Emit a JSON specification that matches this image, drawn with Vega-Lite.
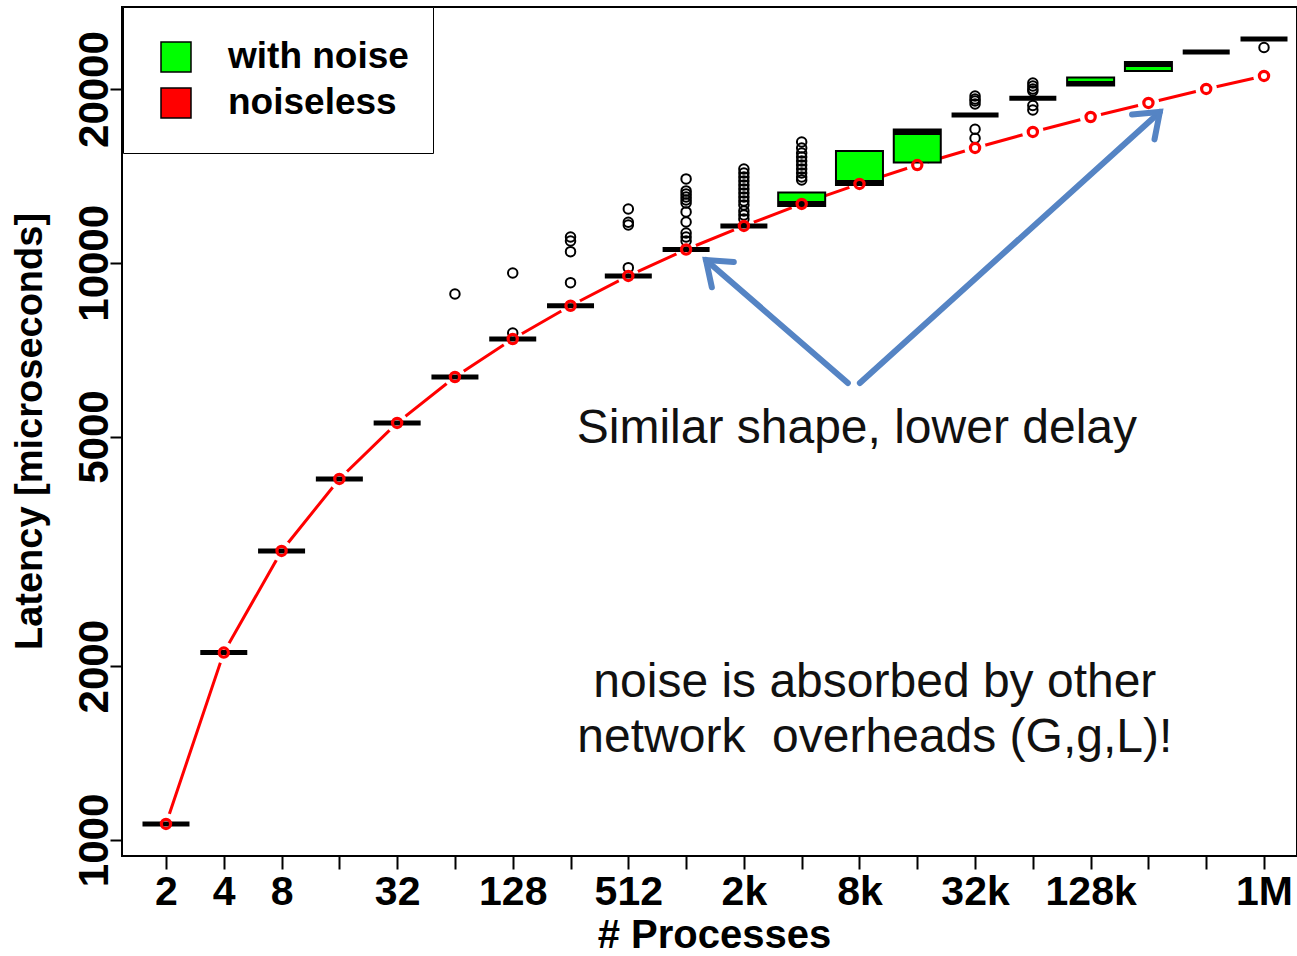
{
  "$schema": "https://vega.github.io/schema/vega-lite/v6.json",
  "autosize": {"type": "none"},
  "padding": {"left": 122, "top": 7, "right": 0, "bottom": 100},
  "width": 1175,
  "height": 849,
  "background": "white",
  "config": {
    "view": {"stroke": "black", "strokeWidth": 2},
    "font": "Liberation Sans",
    "legend": {
      "orient": "none", "legendX": 1, "legendY": 0,
      "padding": 24, "symbolOffset": 3, "labelOffset": 26, "rowPadding": 2,
      "symbolSize": 2500, "symbolType": "M-0.6,-0.6H0.6V0.6H-0.6Z",
      "symbolStrokeColor": "black", "symbolStrokeWidth": 1.5,
      "labelFontSize": 37, "labelFont": "Liberation Sans", "labelFontWeight": "bold",
      "labelColor": "black", "labelLimit": 400,
      "strokeColor": "black", "fillColor": "white"
    }
  },
  "datasets": {
    "noiseless": [
      {"procs": 2, "latency": 1066}, {"procs": 4, "latency": 2112}, {"procs": 8, "latency": 3168},
      {"procs": 16, "latency": 4222}, {"procs": 32, "latency": 5279}, {"procs": 64, "latency": 6341},
      {"procs": 128, "latency": 7379}, {"procs": 256, "latency": 8426}, {"procs": 512, "latency": 9489},
      {"procs": 1024, "latency": 10546}, {"procs": 2048, "latency": 11584}, {"procs": 4096, "latency": 12648},
      {"procs": 8192, "latency": 13700}, {"procs": 16384, "latency": 14773}, {"procs": 32768, "latency": 15812},
      {"procs": 65536, "latency": 16855}, {"procs": 131072, "latency": 17893}, {"procs": 262144, "latency": 18923},
      {"procs": 524288, "latency": 20010}, {"procs": 1048576, "latency": 21076}
    ],
    "medians": [
      {"procs": 2, "median": 1066}, {"procs": 4, "median": 2112}, {"procs": 8, "median": 3168},
      {"procs": 16, "median": 4222}, {"procs": 32, "median": 5279}, {"procs": 64, "median": 6341},
      {"procs": 128, "median": 7379}, {"procs": 256, "median": 8426}, {"procs": 512, "median": 9489},
      {"procs": 1024, "median": 10546}, {"procs": 2048, "median": 11584}, {"procs": 4096, "median": 12674},
      {"procs": 8192, "median": 13782}, {"procs": 16384, "median": 16820}, {"procs": 32768, "median": 18037},
      {"procs": 65536, "median": 19280}, {"procs": 131072, "median": 20452}, {"procs": 262144, "median": 22065},
      {"procs": 524288, "median": 23190}, {"procs": 1048576, "median": 24430}
    ],
    "boxes": [
      {"procs": 4096, "q1": 12549, "q3": 13243, "series": "with noise"},
      {"procs": 8192, "q1": 13646, "q3": 15624, "series": "with noise"},
      {"procs": 16384, "q1": 14924, "q3": 17022, "series": "with noise"},
      {"procs": 131072, "q1": 20293, "q3": 20950, "series": "with noise"},
      {"procs": 262144, "q1": 21500, "q3": 22284, "series": "with noise"}
    ],
    "outliers": [
      {"procs": 64, "latency": 8831},
      {"procs": 128, "latency": 9603}, {"procs": 128, "latency": 7557},
      {"procs": 256, "latency": 11087}, {"procs": 256, "latency": 10910}, {"procs": 256, "latency": 10455}, {"procs": 256, "latency": 9239},
      {"procs": 512, "latency": 12397}, {"procs": 512, "latency": 11756}, {"procs": 512, "latency": 11630}, {"procs": 512, "latency": 9808},
      {"procs": 1024, "latency": 13977}, {"procs": 1024, "latency": 13323}, {"procs": 1024, "latency": 13164}, {"procs": 1024, "latency": 13007},
      {"procs": 1024, "latency": 12852}, {"procs": 1024, "latency": 12699}, {"procs": 1024, "latency": 12251}, {"procs": 1024, "latency": 11770},
      {"procs": 1024, "latency": 11266}, {"procs": 1024, "latency": 11087}, {"procs": 1024, "latency": 10910},
      {"procs": 2048, "latency": 14540}, {"procs": 2048, "latency": 14311}, {"procs": 2048, "latency": 14082}, {"procs": 2048, "latency": 13861},
      {"procs": 2048, "latency": 13642}, {"procs": 2048, "latency": 13424}, {"procs": 2048, "latency": 13213}, {"procs": 2048, "latency": 13006},
      {"procs": 2048, "latency": 12798}, {"procs": 2048, "latency": 12598}, {"procs": 2048, "latency": 12301}, {"procs": 2048, "latency": 12106},
      {"procs": 2048, "latency": 11912},
      {"procs": 4096, "latency": 16196}, {"procs": 4096, "latency": 15812}, {"procs": 4096, "latency": 15500}, {"procs": 4096, "latency": 15255},
      {"procs": 4096, "latency": 15014}, {"procs": 4096, "latency": 14773}, {"procs": 4096, "latency": 14540}, {"procs": 4096, "latency": 14311},
      {"procs": 4096, "latency": 14082}, {"procs": 4096, "latency": 13915},
      {"procs": 32768, "latency": 19458}, {"procs": 32768, "latency": 19226}, {"procs": 32768, "latency": 19071}, {"procs": 32768, "latency": 18843},
      {"procs": 32768, "latency": 17037}, {"procs": 32768, "latency": 16436},
      {"procs": 65536, "latency": 20495}, {"procs": 65536, "latency": 20251}, {"procs": 65536, "latency": 20010}, {"procs": 65536, "latency": 19849},
      {"procs": 65536, "latency": 18731}, {"procs": 65536, "latency": 18397},
      {"procs": 1048576, "latency": 23610}
    ],
    "arrows": [
      {"id": 1, "procs": 7126, "latency": 6191, "procs2": 1299, "latency2": 10113},
      {"id": 2, "procs": 8231, "latency": 6191, "procs2": 300700, "latency2": 18256}
    ],
    "notes": [
      {"procs": 7940, "latency": 4873, "label": "Similar shape, lower delay"},
      {"procs": 9850, "latency": 1769, "label": "noise is absorbed by other"},
      {"procs": 9850, "latency": 1421, "label": "network \u00a0overheads (G,g,L)!"}
    ]
  },
  "encoding": {
    "x": {
      "field": "procs", "type": "quantitative",
      "scale": {"type": "log", "base": 2, "domain": [1.18, 1557700], "nice": false, "zero": false, "padding": 0},
      "axis": {
        "title": "# Processes", "titleFontSize": 40, "titleFontWeight": "bold", "titleColor": "black",
        "titleX": 592, "titleY": 91, "titleBaseline": "alphabetic", "titleAnchor": null, "titleAlign": "center",
        "values": [2,4,8,16,32,64,128,256,512,1024,2048,4096,8192,16384,32768,65536,131072,262144,524288,1048576],
        "labelExpr": "datum.value == 1048576 ? '1M' : (indexof([2048,8192,32768,131072], datum.value) >= 0 ? (datum.value/1024) + 'k' : (indexof([2,4,8,32,128,512], datum.value) >= 0 ? '' + datum.value : ''))",
        "labelFontSize": 41, "labelFontWeight": "bold", "labelColor": "black",
        "labelBaseline": "alphabetic", "labelPadding": 35, "labelOverlap": false, "labelFlush": false, "labelBound": false,
        "tickSize": 13, "tickWidth": 2, "tickColor": "black", "domain": false, "grid": false
      }
    },
    "y": {
      "field": "latency", "type": "quantitative",
      "scale": {"type": "log", "domain": [938, 27750], "nice": false, "zero": false, "padding": 0},
      "axis": {
        "title": "Latency [microseconds]", "titleFontSize": 38, "titleFontWeight": "bold", "titleColor": "black",
        "titleAngle": 270, "titleX": -81, "titleY": 424, "titleBaseline": "alphabetic", "titleAlign": "center", "titleAnchor": null,
        "values": [1000, 2000, 5000, 10000, 20000], "format": "d",
        "labelFontSize": 42, "labelFontWeight": "bold", "labelColor": "black",
        "labelAngle": 270, "labelAlign": "center", "labelBaseline": "alphabetic", "labelPadding": 3, "labelOverlap": false,
        "tickSize": 12, "tickWidth": 2, "tickColor": "black", "domain": false, "grid": false
      }
    }
  },
  "layer": [
    {
      "data": {"name": "noiseless"},
      "mark": {"type": "line", "color": "#ff0000", "strokeWidth": 3},
      "encoding": {}
    },
    {
      "data": {"name": "noiseless"},
      "mark": {"type": "point", "shape": "circle", "filled": true, "color": "white", "opacity": 1, "size": 460},
      "encoding": {}
    },
    {
      "data": {"name": "boxes"},
      "mark": {"type": "bar", "width": 47, "stroke": "black", "strokeWidth": 2},
      "encoding": {
        "y": {"field": "q1", "type": "quantitative"},
        "y2": {"field": "q3"},
        "fill": {
          "field": "series", "type": "nominal",
          "scale": {"domain": ["with noise", "noiseless"], "range": ["#00ff00", "#ff0000"]},
          "legend": {"title": " ", "titleOrient": "bottom", "titleFontSize": 8, "titlePadding": 0}
        }
      }
    },
    {
      "data": {"name": "medians"},
      "mark": {"type": "tick", "orient": "horizontal", "size": 47, "thickness": 5, "color": "black", "opacity": 1},
      "encoding": {"y": {"field": "median", "type": "quantitative"}}
    },
    {
      "data": {"name": "outliers"},
      "mark": {"type": "point", "shape": "circle", "filled": false, "color": "black", "strokeWidth": 2, "size": 90, "opacity": 1},
      "encoding": {}
    },
    {
      "data": {"name": "noiseless"},
      "mark": {"type": "point", "shape": "circle", "filled": false, "color": "#ff0000", "strokeWidth": 3.2, "size": 85, "opacity": 1},
      "encoding": {}
    },
    {
      "data": {"name": "arrows"},
      "mark": {"type": "rule", "color": "#5584c4", "strokeWidth": 6, "strokeCap": "round"},
      "encoding": {
        "x2": {"field": "procs2"},
        "y2": {"field": "latency2"}
      }
    },
    {
      "data": {"name": "arrows"},
      "transform": [{"filter": "datum.id == 1"}],
      "mark": {"type": "point", "shape": "M-1,-0.75L0,0L-1,0.75", "filled": false, "color": "#5584c4", "strokeWidth": 6, "strokeCap": "round", "strokeJoin": "miter", "size": 2000, "angle": 220.9, "opacity": 1},
      "encoding": {
        "x": {"field": "procs2", "type": "quantitative"},
        "y": {"field": "latency2", "type": "quantitative"}
      }
    },
    {
      "data": {"name": "arrows"},
      "transform": [{"filter": "datum.id == 2"}],
      "mark": {"type": "point", "shape": "M-1,-0.75L0,0L-1,0.75", "filled": false, "color": "#5584c4", "strokeWidth": 6, "strokeCap": "round", "strokeJoin": "miter", "size": 2000, "angle": 317.9, "opacity": 1},
      "encoding": {
        "x": {"field": "procs2", "type": "quantitative"},
        "y": {"field": "latency2", "type": "quantitative"}
      }
    },
    {
      "data": {"name": "notes"},
      "mark": {"type": "text", "font": "Liberation Sans", "fontSize": 48, "color": "#111111", "align": "center", "baseline": "alphabetic"},
      "encoding": {"text": {"field": "label"}}
    }
  ]
}
